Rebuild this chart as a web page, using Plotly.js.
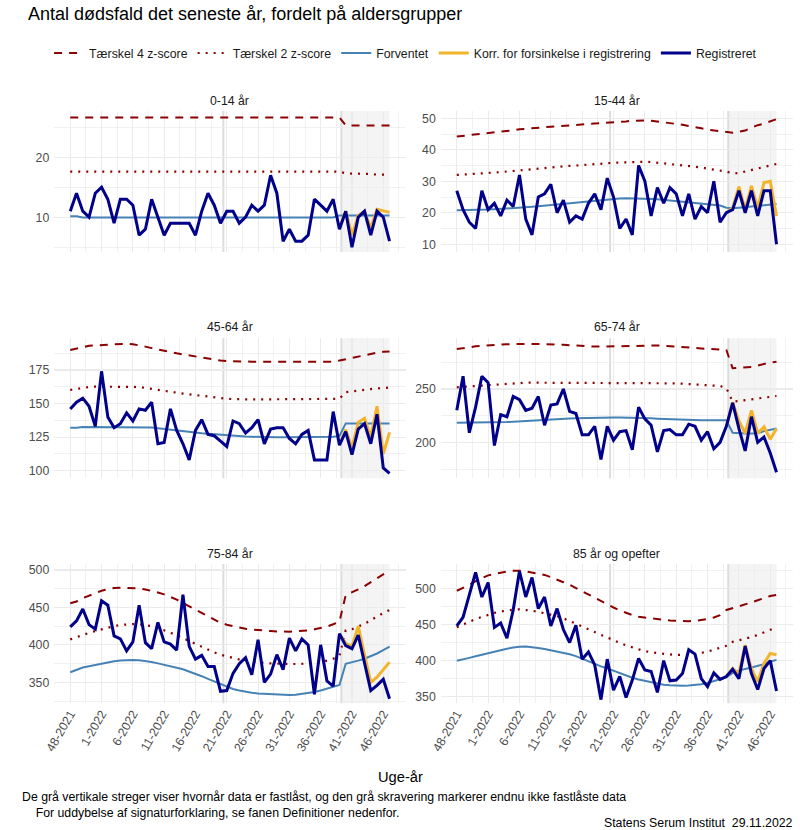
<!DOCTYPE html>
<html><head><meta charset="utf-8">
<script src="https://cdn.plot.ly/plotly-3.0.1.min.js"></script>
<style>body{margin:0;background:#fff}#chart{width:800px;height:830px}</style>
</head><body><div id="chart"></div>
<script>
// ---------- DATA ----------
const weeks = ["48-2021","49-2021","50-2021","51-2021","52-2021",
  "1-2022","2-2022","3-2022","4-2022","5-2022","6-2022","7-2022","8-2022","9-2022","10-2022",
  "11-2022","12-2022","13-2022","14-2022","15-2022","16-2022","17-2022","18-2022","19-2022","20-2022",
  "21-2022","22-2022","23-2022","24-2022","25-2022","26-2022","27-2022","28-2022","29-2022","30-2022",
  "31-2022","32-2022","33-2022","34-2022","35-2022","36-2022","37-2022","38-2022","39-2022","40-2022",
  "41-2022","42-2022","43-2022","44-2022","45-2022","46-2022","47-2022"];
const tickLabels = ["48-2021","1-2022","6-2022","11-2022","16-2022","21-2022","26-2022","31-2022","36-2022","41-2022","46-2022"];
const panelNames = ["0-14 år","15-44 år","45-64 år","65-74 år","75-84 år","85 år og opefter"];
const korrWeeks = ["39-2022","40-2022","41-2022","42-2022","43-2022","44-2022","45-2022","46-2022","47-2022"];
// positions (in weeks) of the grey "fastlåst" lines and start of non-locked shading
const fastlaastPos = [24.45, 43.3];
const shadeStart = 43.3;

// Registreret
const reg_0_14 = [11,14,11,10,14,15,13,9,13,13,12,7,8,13,10,7,9,9,9,9,7,11,14,12,9,11,11,9,10,12,11,12,17,14,6,8,6,6,7,13,12,11,13,8,11,5,10,11,7,11,10,6];
const reg_15_44 = [27,21,17,15,27,21,23,19,24,22,32,18,13,25,26,29,20,24,17,19,18,23,26,21,31,25,15,18,13,35,30,19,28,23,28,26,19,26,18,22,20,30,17,20,21,27,20,27,19,27,27,10];
const reg_45_64 = [146,151,154,148,133,174,140,132,135,143,137,146,145,151,120,121,146,130,120,108,130,138,127,126,122,118,137,135,128,132,138,120,131,132,132,124,120,127,130,108,108,108,144,119,129,112,131,135,120,142,102,98];
const reg_65_74 = [230,262,209,233,262,256,197,226,224,243,240,230,232,243,216,235,236,250,229,227,207,207,215,184,215,202,210,211,193,233,222,216,191,211,212,207,207,217,215,202,210,194,200,215,237,213,192,224,200,205,190,172];
const reg_75_84 = [424,432,448,427,421,459,453,412,408,392,404,453,403,395,430,404,401,393,467,398,381,386,371,371,338,339,362,375,383,360,407,350,361,387,367,409,392,408,400,334,400,352,345,415,399,395,413,376,339,346,354,328];
const reg_85 = [448,460,491,522,488,508,446,452,431,470,524,488,515,472,488,448,472,443,425,449,402,412,394,346,402,359,378,349,373,403,387,385,356,400,372,373,382,415,409,375,364,383,374,378,388,375,420,382,360,389,400,358];

// Korr. for forsinkelse i registrering (weeks 39-2022 .. 47-2022)
const korr_0_14 = [8.3,11,7,10.3,11,8.2,11.3,11,10.8];
const korr_15_44 = [20,21.5,28.3,21,28.5,21.5,29.6,30,19];
const korr_45_64 = [119.5,130.5,117,136,139,125,148,112.5,128.5];
const korr_65_74 = [215,237.5,220,208.5,230,208.5,214.5,203,213];
const korr_75_84 = [415,402,398,425,387,350,357,367,377];
const korr_85 = [378,389,382,421.5,389,371,396,410,408];

// Forventet
const forv_0_14 = [10.15,10.15,9.95,9.95,9.95,9.95,9.95,9.95,9.95,9.95,9.95,9.95,9.95,9.95,9.95,9.95,9.95,9.95,9.95,9.95,9.95,9.95,9.95,9.95,9.95,9.95,9.95,9.95,9.95,9.95,9.95,9.95,9.95,9.95,9.95,9.95,9.95,9.95,9.95,9.95,9.95,9.95,9.95,10.3,10.3,10.3,10.3,10.3,10.3,10.3,10.3,10.3];
const forv_15_44 = [20.8,20.8,20.8,20.8,20.9,21.0,21.1,21.2,21.3,21.5,21.6,21.8,21.9,22.1,22.3,22.5,22.7,22.9,23.1,23.3,23.5,23.7,23.9,24.1,24.3,24.4,24.5,24.6,24.6,24.6,24.5,24.4,24.3,24.1,23.9,23.7,23.5,23.3,23.1,22.9,22.7,22.5,22.3,21.6,21.4,21.6,21.8,22.0,22.2,22.5,22.7,22.8];
const forv_45_64 = [132.0,132.0,132.6,132.6,132.6,132.6,132.6,132.6,132.6,132.6,132.6,132.6,132.6,132.2,131.6,131.0,130.4,129.8,129.2,128.7,128.2,127.8,127.4,127.0,126.6,126.2,125.9,125.6,125.4,125.2,125.0,124.9,124.8,124.8,124.8,124.8,124.8,124.8,124.8,124.8,125.0,125.1,125.3,125.8,135.2,135.2,135.2,135.2,135.2,135.2,135.2,135.2];
const forv_65_74 = [218.3,218.3,218.3,218.4,218.4,218.5,218.6,218.8,219.0,219.3,219.7,220.1,220.5,220.8,221.1,221.4,221.7,222.0,222.3,222.6,222.8,223.0,223.1,223.2,223.2,223.2,223.2,223.2,223.1,223.0,222.8,222.5,222.2,221.9,221.6,221.3,221.1,220.9,220.8,220.7,220.6,220.6,220.6,220.6,209.0,208.4,208.4,208.4,208.6,210.5,212.0,213.0];
const forv_75_84 = [363.4,367.0,369.8,371.5,373.3,375.0,376.5,378.0,379.0,379.6,379.8,379.4,378.4,377.0,375.3,373.6,371.5,369.4,367.4,364.5,361.6,358.2,354.7,351.5,348.0,344.5,341.1,339.0,337.2,336.0,335.2,334.6,334.0,333.5,333.1,333.1,333.4,334.4,335.7,337.2,339.2,341.8,344.4,346.4,374.8,376.5,379.0,381.5,384.5,388.5,393.0,397.6];
const forv_85 = [399.8,401.5,403.8,406.0,408.2,410.5,412.5,414.5,416.5,418.0,419.3,419.5,418.8,417.5,416.0,414.3,412.5,410.7,408.8,406.2,402.5,399.0,395.5,392.0,389.2,386.0,382.5,379.0,376.2,373.8,371.8,369.7,368.0,366.7,365.8,365.3,365.2,365.4,366.0,367.2,369.0,371.5,374.0,377.0,383.0,386.0,388.5,390.5,392.5,395.0,398.5,401.0];

// Tærskel 4 z-score
const t4_0_14 = [26.6,26.6,26.6,26.6,26.6,26.6,26.6,26.6,26.6,26.6,26.6,26.6,26.6,26.6,26.6,26.6,26.6,26.6,26.6,26.6,26.6,26.6,26.6,26.6,26.6,26.6,26.6,26.6,26.6,26.6,26.6,26.6,26.6,26.6,26.6,26.6,26.6,26.6,26.6,26.6,26.6,26.6,26.6,26.6,25.3,25.3,25.3,25.3,25.3,25.3,25.3,25.3];
const t4_15_44 = [44.2,44.4,44.7,44.9,45.0,45.2,45.4,45.7,46.0,46.2,46.5,46.7,46.9,47.1,47.2,47.3,47.4,47.6,47.8,47.9,48.1,48.2,48.3,48.4,48.6,48.7,48.9,49.0,49.2,49.3,49.3,49.2,49.0,48.8,48.5,48.2,47.9,47.6,47.2,46.8,46.4,46.1,45.8,45.5,45.4,45.7,46.1,47.0,47.8,48.3,49.0,49.7];
const t4_45_64 = [189.9,191.0,192.0,193.0,193.3,193.6,194.0,194.5,194.8,194.6,194.2,193.5,192.4,191.3,190.2,189.3,188.4,187.4,186.6,185.8,185.0,184.0,183.1,182.4,182.0,181.6,181.4,181.2,181.2,181.2,181.2,181.2,181.2,181.2,181.2,181.2,181.2,181.2,181.2,181.2,181.2,181.2,181.2,182.0,183.0,184.2,185.4,186.4,187.3,187.9,188.5,188.8];
const t4_65_74 = [287.5,288.0,289.0,290.0,290.6,291.0,291.3,291.7,292.0,292.2,292.2,292.2,292.2,292.2,292.1,292.0,291.9,291.5,291.0,290.5,290.0,289.7,289.7,289.7,289.8,290.0,290.2,290.5,290.6,290.8,291.0,291.0,290.8,290.5,290.2,289.9,289.5,289.0,288.4,288.0,287.6,287.4,287.3,286.5,269.4,269.6,270.0,270.6,272.0,273.5,274.8,275.5];
const t4_75_84 = [455.5,458.0,462.5,466.0,469.5,472.2,474.5,476.0,476.4,476.4,476.2,475.5,474.0,472.5,470.0,467.5,464.5,460.5,456.0,451.5,447.0,442.0,437.5,433.0,429.5,427.0,425.0,423.0,421.5,420.5,419.5,419.0,418.5,418.0,417.6,417.6,418.0,418.5,419.5,420.8,422.5,424.5,427.5,431.0,466.5,470.0,474.0,478.5,483.5,488.5,494.0,499.5];
const t4_85 = [496.7,500.5,504.5,510.0,514.5,518.0,520.0,521.8,523.3,524.2,524.5,523.6,522.0,520.7,518.6,515.5,512.5,508.5,505.0,500.5,496.0,491.0,486.0,481.5,477.7,473.5,469.3,466.0,463.0,460.8,459.5,458.0,457.0,456.3,455.5,455.0,454.6,454.6,455.0,455.8,457.5,459.7,463.0,470.0,472.6,474.5,477.7,480.5,483.5,486.7,489.4,491.0];

// Tærskel 2 z-score
const t2_0_14 = [17.6,17.6,17.6,17.6,17.6,17.6,17.6,17.6,17.6,17.6,17.6,17.6,17.6,17.6,17.6,17.6,17.6,17.6,17.6,17.6,17.6,17.6,17.6,17.6,17.6,17.6,17.6,17.6,17.6,17.6,17.6,17.6,17.6,17.6,17.6,17.6,17.6,17.6,17.6,17.6,17.6,17.6,17.6,17.6,17.3,17.3,17.2,17.2,17.2,17.1,17.1,17.1];
const t2_15_44 = [32.0,32.1,32.2,32.3,32.4,32.5,32.7,32.9,33.1,33.3,33.5,33.7,33.9,34.1,34.3,34.4,34.5,34.7,34.9,35.0,35.1,35.3,35.5,35.6,35.7,35.9,36.0,36.1,36.2,36.2,36.2,36.1,35.9,35.7,35.5,35.3,35.1,34.9,34.8,34.4,34.0,33.7,33.4,33.1,32.5,32.6,33.1,33.6,34.2,34.7,35.1,35.5];
const t2_45_64 = [160.1,161.0,161.8,162.3,162.6,162.6,162.6,162.6,162.6,162.6,162.6,162.3,161.6,161.0,160.4,159.7,158.9,158.1,157.4,156.8,156.2,155.6,155.0,154.5,154.0,153.6,153.3,153.1,153.1,153.1,153.1,153.1,153.1,153.1,153.1,153.1,153.1,153.1,153.1,153.1,153.1,153.1,153.1,153.5,158.5,159.2,159.8,160.3,160.8,161.2,161.6,161.9];
const t2_65_74 = [251.6,252.0,252.5,253.0,253.5,253.8,254.3,254.8,255.3,255.6,255.9,255.9,255.9,255.9,255.9,255.9,255.9,255.9,255.9,255.9,255.9,255.9,255.9,255.9,255.9,255.9,255.9,255.9,255.9,255.9,255.9,255.9,255.9,255.7,255.5,255.3,255.0,254.6,254.2,253.8,253.4,253.0,252.8,251.0,238.2,238.8,239.5,240.3,241.0,241.8,242.6,243.4];
const t2_75_84 = [407.4,410.5,413.5,416.0,418.5,420.8,423.0,425.0,426.5,427.5,427.9,427.5,426.5,425.0,422.5,419.5,416.5,413.0,409.0,405.0,401.5,398.0,394.0,390.0,387.0,384.5,382.3,380.5,379.0,377.8,376.8,376.0,375.3,374.8,374.5,374.5,374.5,374.5,374.7,375.2,376.5,378.5,381.5,385.0,419.5,421.0,424.0,428.0,433.0,438.0,442.5,446.6];
const t2_85 = [446.0,450.0,454.0,457.5,460.5,463.5,466.0,468.0,469.5,470.5,470.9,470.2,469.0,467.5,465.8,463.8,461.5,458.5,455.0,451.5,447.5,443.5,439.5,435.5,432.0,428.0,424.5,421.0,418.0,415.0,413.0,411.5,410.3,409.3,408.5,408.0,407.7,408.0,409.0,410.5,412.5,415.0,417.5,420.5,426.0,428.0,430.0,432.5,435.5,439.0,442.5,446.0];

// y tick labels per panel
const yTicks = [[10,20],[10,20,30,40,50],[100,125,150,175],[200,250],[350,400,450,500],[350,400,450,500]];
const yMinor = [[5,15,25],[15,25,35,45],[112.5,137.5,162.5,187.5],[175,225,275],[325,375,425,475],[375,425,475,525]];

// ---------- BUILD ----------
const regAll = [reg_0_14,reg_15_44,reg_45_64,reg_65_74,reg_75_84,reg_85];
const korrAll = [korr_0_14,korr_15_44,korr_45_64,korr_65_74,korr_75_84,korr_85];
const forvAll = [forv_0_14,forv_15_44,forv_45_64,forv_65_74,forv_75_84,forv_85];
const t4All = [t4_0_14,t4_15_44,t4_45_64,t4_65_74,t4_75_84,t4_85];
const t2All = [t2_0_14,t2_15_44,t2_45_64,t2_65_74,t2_75_84,t2_85];

const xIdx = weeks.map((w,i)=>i);
const korrIdx = korrWeeks.map(w=>weeks.indexOf(w));
const tickIdx = tickLabels.map(w=>weeks.indexOf(w));
const minorX = tickIdx.map(v=>v-2.5).concat([tickIdx[tickIdx.length-1]+2.5]);

const W = 800, H = 830;
const colX = [[54.3,405.5],[440.8,792.5]];
const rowY = [[111,252],[338.3,478.3],[564,703.3]];
const yRanges = [[4.2,27.7],[7.55,52.3],[94.3,198.6],[166.3,297.5],[322,508],[340.9,533.7]];
const stripY = [100.5,326.7,554];

const FONT = 'Liberation Sans, Arial, Helvetica, sans-serif';
const GRID = '#EBEBEB';
const FS = 12.3;

const traces = [];
const layout = {
  width: W, height: H,
  margin: {l:0,r:0,t:0,b:0},
  paper_bgcolor: '#fff', plot_bgcolor: '#fff',
  font: {family: FONT, color: '#1A1A1A'},
  showlegend: true,
  legend: {orientation:'h', x:0.507, xanchor:'center', y:1-53/H, yanchor:'middle',
           font:{size:FS, color:'#1A1A1A', family:FONT}, traceorder:'normal', itemwidth:30, bgcolor:'rgba(0,0,0,0)'},
  title: {text:'Antal dødsfald det seneste år, fordelt på aldersgrupper', x:28/W, xref:'paper', xanchor:'left',
          y:1-14/H, yref:'paper', yanchor:'middle', font:{size:18, color:'#000', family:FONT}},
  shapes: [], annotations: []
};

for (let p=0;p<6;p++){
  const s = p===0 ? '' : String(p+1);
  const col = p%2, row = Math.floor(p/2);
  const xa = 'x'+s, ya = 'y'+s;
  const common = {xaxis:xa, yaxis:ya, mode:'lines', hoverinfo:'skip'};
  traces.push(Object.assign({x:xIdx, y:t4All[p], name:'Tærskel 4 z-score', legendgroup:'t4', showlegend:p===0,
     line:{color:'#8B0000', width:2, dash:'8px,7px'}}, common));
  traces.push(Object.assign({x:xIdx, y:t2All[p], name:'Tærskel 2 z-score', legendgroup:'t2', showlegend:p===0,
     line:{color:'#8B0000', width:2.2, dash:'2px,6px'}}, common));
  traces.push(Object.assign({x:xIdx, y:forvAll[p], name:'Forventet', legendgroup:'fv', showlegend:p===0,
     line:{color:'#4682B4', width:2}}, common));
  traces.push(Object.assign({x:korrIdx, y:korrAll[p], name:'Korr. for forsinkelse i registrering', legendgroup:'kr', showlegend:p===0,
     line:{color:'#F2B42A', width:3}}, common));
  traces.push(Object.assign({x:xIdx, y:regAll[p], name:'Registreret', legendgroup:'rg', showlegend:p===0,
     line:{color:'#00008B', width:3}}, common));

  layout['xaxis'+s] = {
    domain:[colX[col][0]/W, colX[col][1]/W], anchor: ya,
    range:[-2.55, 53.55], tickmode:'array', tickvals:tickIdx, ticktext:tickLabels,
    showticklabels: row===2, tickangle:-60, ticks:'', tickfont:{size:FS, color:'#4D4D4D'},
    showgrid:true, gridcolor:GRID, gridwidth:1.1, zeroline:false, showline:false,
    minor:{tickmode:'array', tickvals:minorX, showgrid:true, gridcolor:GRID, gridwidth:0.7, ticks:''}
  };
  layout['yaxis'+s] = {
    domain:[1-rowY[row][1]/H, 1-rowY[row][0]/H], anchor: xa,
    range: yRanges[p], tickmode:'array', tickvals:yTicks[p], ticks:'', ticklabelstandoff:4,
    tickfont:{size:FS, color:'#4D4D4D'},
    showgrid:true, gridcolor:GRID, gridwidth:1.1, zeroline:false, showline:false,
    minor:{tickmode:'array', tickvals:yMinor[p], showgrid:true, gridcolor:GRID, gridwidth:0.7, ticks:''}
  };
  // shading of non-locked data
  layout.shapes.push({type:'rect', xref:xa, yref:ya+' domain', x0:shadeStart, x1:xIdx[xIdx.length-1], y0:0, y1:1,
     fillcolor:'#F4F4F4', line:{width:0}, layer:'below'});
  fastlaastPos.forEach(v=>{
    layout.shapes.push({type:'line', xref:xa, yref:ya+' domain', x0:v, x1:v, y0:0, y1:1,
       line:{color:'#DDDDDD', width:2}, layer:'below'});
  });
  layout.annotations.push({text:panelNames[p], xref:'paper', yref:'paper',
     x:(colX[col][0]+colX[col][1])/2/W, y:1-stripY[row]/H, xanchor:'center', yanchor:'middle',
     showarrow:false, font:{size:FS, color:'#1A1A1A'}});
}

layout.annotations.push({text:'Uge-år', xref:'paper', yref:'paper', x:400/W, y:1-777/H,
   xanchor:'center', yanchor:'middle', showarrow:false, font:{size:14.7, color:'#000'}});
layout.annotations.push({text:'De grå vertikale streger viser hvornår data er fastlåst, og den grå skravering markerer endnu ikke fastlåste data' +
   '<br>\u00A0\u00A0\u00A0\u00A0For uddybelse af signaturforklaring, se fanen Definitioner nedenfor.',
   xref:'paper', yref:'paper', x:20/W, y:1-805/H, xanchor:'left', yanchor:'middle', align:'left',
   showarrow:false, font:{size:FS, color:'#000'}});
layout.annotations.push({text:'Statens Serum Institut\u00A0 29.11.2022',
   xref:'paper', yref:'paper', x:795/W, y:1-823/H, xanchor:'right', yanchor:'middle', showarrow:false, font:{size:FS, color:'#000'}});

Plotly.newPlot('chart', traces, layout, {staticPlot:true, displayModeBar:false});
</script></body></html>
